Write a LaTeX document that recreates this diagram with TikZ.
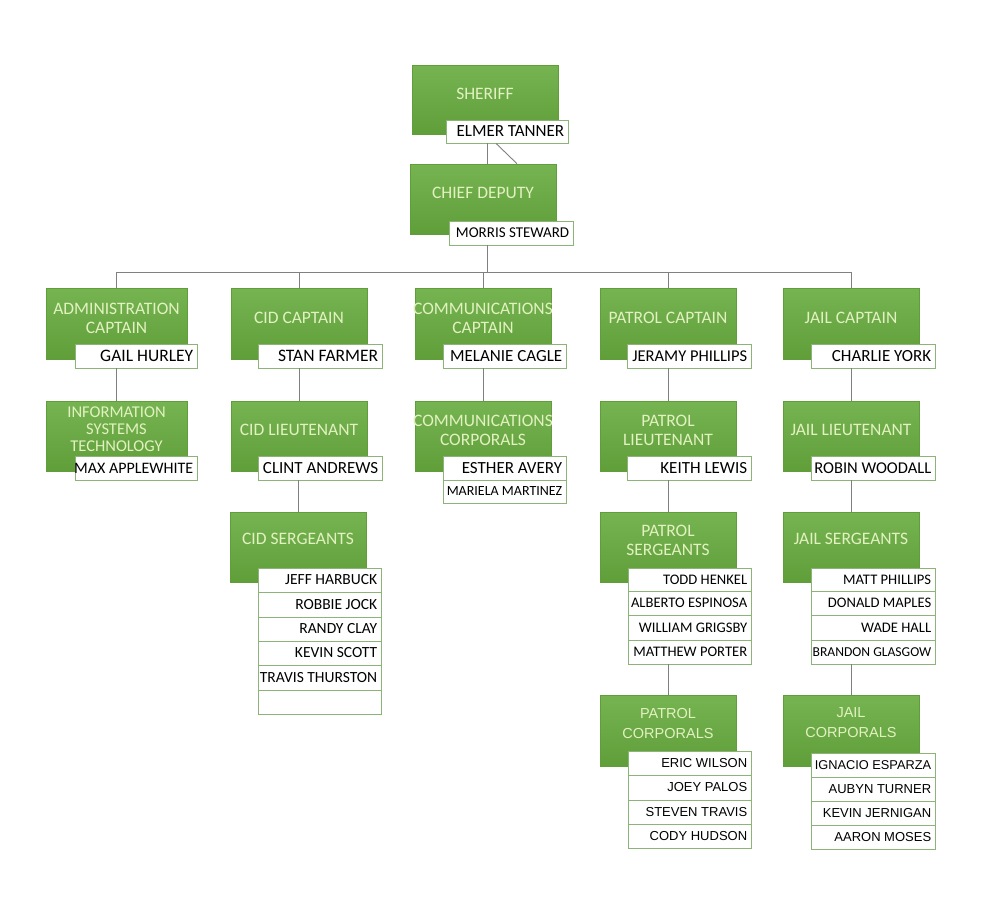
\documentclass[tikz,border=0pt]{standalone}
\usepackage{fontspec}
\setmainfont{Carlito}
\newfontfamily\arialf{Liberation Sans}
\usetikzlibrary{fit}
\definecolor{gtop}{RGB}{118,180,82}
\definecolor{gbot}{RGB}{96,158,58}
\definecolor{gtext}{RGB}{226,241,192}
\definecolor{nborder}{RGB}{140,180,120}
\definecolor{conncol}{RGB}{128,128,128}
\newcommand\fs[1]{\fontsize{#1}{#1}\selectfont}
\tikzset{
 gbox/.style={rectangle, inner sep=0pt, top color=gtop, bottom color=gbot, draw=gbot, line width=0.6pt},
 gtxt/.style={text=gtext, align=center, font=\fontsize{17.5}{19}\selectfont, inner sep=0pt},
 nbox/.style={rectangle, inner sep=0pt, fill=white, draw=nborder, line width=0.8pt},
 ntxt/.style={anchor=east, inner sep=0pt, text=black},
 conn/.style={draw=conncol, line width=0.9pt},
}
% [text opts]{name}{x1}{y1}{x2}{y2}{text y}{text}
\newcommand\GreenBox[8][]{%
 \node[gbox, fit={(#3,#4)(#5,#6)}] (#2) {};
 \node[gtxt,#1] (#2-t) at ({(#3+#5)/2},#7) {#8};}
% {name}{x1}{y1}{x2}{y2}{font}{text}
\newcommand\NameBox[7]{%
 \node[nbox, fit={(#2,#3)(#4,#5)}] (#1) {};
 \node[ntxt, font=#6] (#1-t) at ([xshift=-4pt]#1.east) {#7};}
\begin{document}
\begin{tikzpicture}[x=1pt,y=-1pt]
\useasboundingbox[fill=white] (0,0) rectangle (1000,907);
% top
\GreenBox{sheriff}{412}{65}{558}{134}{94}{SHERIFF}
\NameBox{et}{446}{120}{568}{143}{\fs{17}}{ELMER TANNER}
\GreenBox{chief}{410}{164}{556}{234}{193}{CHIEF DEPUTY}
\NameBox{ms}{449}{221}{573}{245}{\fs{15}}{MORRIS STEWARD}
% captains
\GreenBox{admin}{46}{288}{187}{359}{318}{ADMINISTRATION\\CAPTAIN}
\NameBox{gh}{75}{344}{197}{368}{\fs{17.5}}{GAIL HURLEY}
\GreenBox{cidcap}{231}{288}{367}{359}{318}{CID CAPTAIN}
\NameBox{sf}{258}{344}{382}{368}{\fs{17.5}}{STAN FARMER}
\GreenBox{comcap}{415}{288}{551}{359}{318}{COMMUNICATIONS\\CAPTAIN}
\NameBox{mc}{443}{344}{566}{368}{\fs{17}}{MELANIE CAGLE}
\GreenBox{patcap}{600}{288}{736}{359}{318}{PATROL CAPTAIN}
\NameBox{jp}{627}{344}{751}{368}{\fs{16.5}}{JERAMY PHILLIPS}
\GreenBox{jailcap}{783}{288}{919}{359}{318}{JAIL CAPTAIN}
\NameBox{cy}{811}{344}{935}{368}{\fs{17}}{CHARLIE YORK}
% row 2
\GreenBox[font=\fontsize{16.5}{17}\selectfont]{info}{46}{401}{187}{471}{429}{INFORMATION\\SYSTEMS\\TECHNOLOGY}
\NameBox{ma}{75}{456}{197}{480}{\fs{16}}{MAX APPLEWHITE}
\GreenBox{cidlt}{231}{401}{367}{471}{430}{CID LIEUTENANT}
\NameBox{ca}{258}{456}{382}{480}{\fs{17}}{CLINT ANDREWS}
\GreenBox{comcorp}{415}{401}{551}{471}{430}{COMMUNICATIONS\\CORPORALS}
\NameBox{ea}{443}{456}{566}{480}{\fs{17}}{ESTHER AVERY}
\NameBox{mm}{443}{480}{566}{503}{\fs{14}}{MARIELA MARTINEZ}
\GreenBox{patlt}{600}{401}{736}{471}{430}{PATROL\\LIEUTENANT}
\NameBox{kl}{627}{456}{751}{480}{\fs{17}}{KEITH LEWIS}
\GreenBox{jaillt}{783}{401}{919}{471}{430}{JAIL LIEUTENANT}
\NameBox{rw}{811}{456}{935}{480}{\fs{16.5}}{ROBIN WOODALL}
% row 3
\GreenBox{cidsgt}{230}{512}{366}{582}{539}{CID SERGEANTS}
\NameBox{cs1}{258}{568}{381}{592}{\fs{15.5}}{JEFF HARBUCK}
\NameBox{cs2}{258}{592}{381}{617}{\fs{15.5}}{ROBBIE JOCK}
\NameBox{cs3}{258}{617}{381}{641}{\fs{15.5}}{RANDY CLAY}
\NameBox{cs4}{258}{641}{381}{665}{\fs{15.5}}{KEVIN SCOTT}
\NameBox{cs5}{258}{665}{381}{690}{\fs{15.5}}{TRAVIS THURSTON}
\NameBox{cs6}{258}{690}{381}{714}{\fs{15.5}}{}
\GreenBox{patsgt}{600}{512}{736}{582}{540}{PATROL\\SERGEANTS}
\NameBox{ps1}{628}{568}{751}{591}{\fs{14.6}}{TODD HENKEL}
\NameBox{ps2}{628}{591}{751}{615}{\fs{14.6}}{ALBERTO ESPINOSA}
\NameBox{ps3}{628}{615}{751}{640}{\fs{14.6}}{WILLIAM GRIGSBY}
\NameBox{ps4}{628}{640}{751}{664}{\fs{14.6}}{MATTHEW PORTER}
\GreenBox{jailsgt}{783}{512}{919}{582}{539}{JAIL SERGEANTS}
\NameBox{js1}{811}{568}{935}{591}{\fs{14.6}}{MATT PHILLIPS}
\NameBox{js2}{811}{591}{935}{615}{\fs{14.6}}{DONALD MAPLES}
\NameBox{js3}{811}{615}{935}{640}{\fs{14.6}}{WADE HALL}
\NameBox{js4}{811}{640}{935}{664}{\fs{13.6}}{BRANDON GLASGOW}
% row 4
\GreenBox[font=\arialf\fontsize{14.5}{20}\selectfont]{patcorp}{600}{695}{736}{766}{723}{PATROL\\CORPORALS}
\NameBox{pc1}{628}{751}{751}{775}{\arialf\fs{13}}{ERIC WILSON}
\NameBox{pc2}{628}{775}{751}{800}{\arialf\fs{13}}{JOEY PALOS}
\NameBox{pc3}{628}{800}{751}{824}{\arialf\fs{13}}{STEVEN TRAVIS}
\NameBox{pc4}{628}{824}{751}{848}{\arialf\fs{13}}{CODY HUDSON}
\GreenBox[font=\arialf\fontsize{14.5}{20}\selectfont]{jailcorp}{783}{695}{919}{766}{723}{JAIL\\CORPORALS}
\NameBox{jc1}{811}{753}{935}{777}{\arialf\fs{12.8}}{IGNACIO ESPARZA}
\NameBox{jc2}{811}{777}{935}{801}{\arialf\fs{13}}{AUBYN TURNER}
\NameBox{jc3}{811}{801}{935}{825}{\arialf\fs{13}}{KEVIN JERNIGAN}
\NameBox{jc4}{811}{825}{935}{849}{\arialf\fs{13}}{AARON MOSES}
% connectors
\draw[conn] ([xshift=-20pt]et.south) -- ([xshift=-20pt]et.south |- chief.north);
\draw[conn] ([xshift=-11pt]et.south) -- ([xshift=34pt]chief.north);
\coordinate (bus) at (487,272);
\draw[conn] ([xshift=-24pt]ms.south) -- (bus);
\draw[conn] (admin.north) -- (admin.north |- bus) -- (jailcap.north |- bus) -- (jailcap.north);
\draw[conn] (cidcap.north) -- (cidcap.north |- bus);
\draw[conn] (comcap.north) -- (comcap.north |- bus);
\draw[conn] (patcap.north) -- (patcap.north |- bus);
\draw[conn] (info.north) -- (info.north |- gh.south);
\draw[conn] (cidlt.north) -- (cidlt.north |- sf.south);
\draw[conn] (cidsgt.north) -- (cidsgt.north |- ca.south);
\draw[conn] (comcorp.north) -- (comcorp.north |- mc.south);
\draw[conn] (patlt.north) -- (patlt.north |- jp.south);
\draw[conn] (patsgt.north) -- (patsgt.north |- kl.south);
\draw[conn] (patcorp.north) -- (patcorp.north |- ps4.south);
\draw[conn] (jaillt.north) -- (jaillt.north |- cy.south);
\draw[conn] (jailsgt.north) -- (jailsgt.north |- rw.south);
\draw[conn] (jailcorp.north) -- (jailcorp.north |- js4.south);
\end{tikzpicture}
\end{document}
